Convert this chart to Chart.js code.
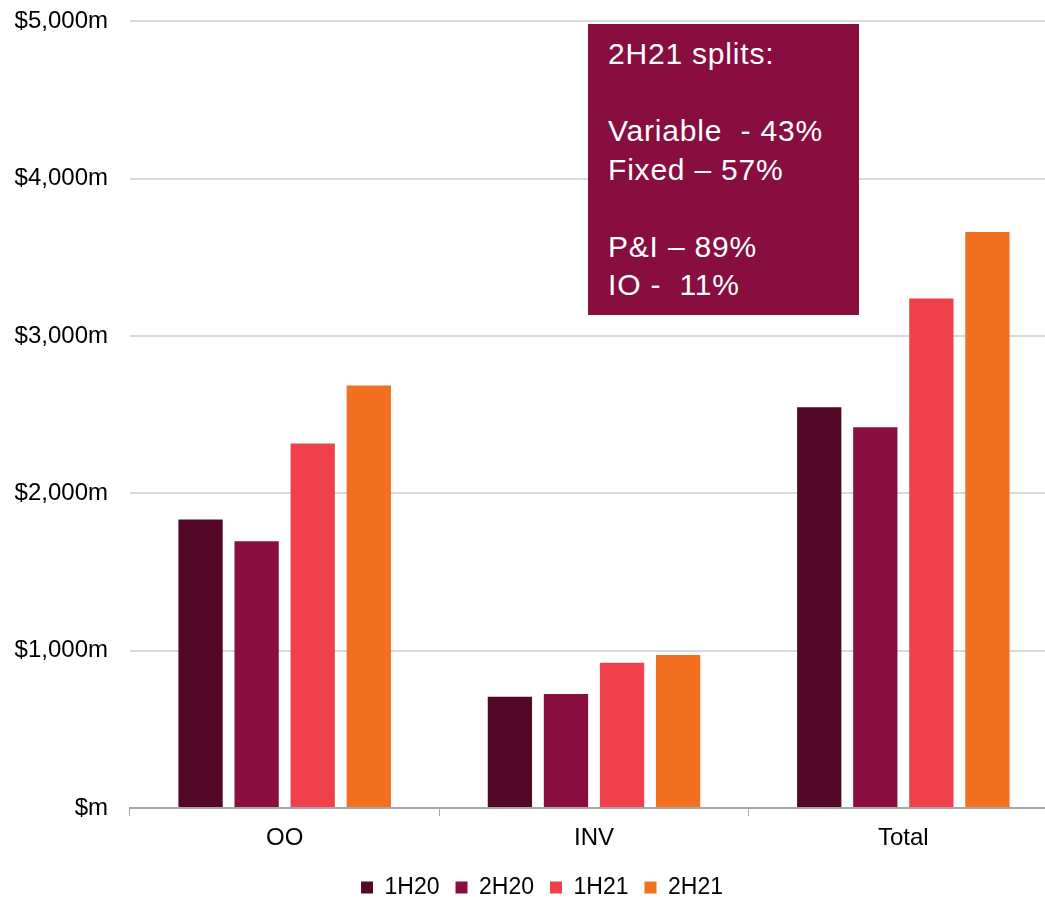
<!DOCTYPE html>
<html>
<head>
<meta charset="utf-8">
<script src="https://cdn.jsdelivr.net/npm/chart.js@4/dist/chart.umd.min.js"></script>
<style>
  html, body { margin: 0; padding: 0; background: #fff; overflow: hidden; }
  #wrap { position: relative; width: 1058px; height: 899px; }
  #chart-area { position: absolute; left: 0; top: -15px; }
  #note {
    position: absolute; left: 588px; top: 24px; width: 271px; height: 291px;
    box-sizing: border-box; padding: 11px 0 0 20px;
    background: #870e3f; color: #fff;
    font: 30px "Liberation Sans", Arial, sans-serif; line-height: 38.5px;
    letter-spacing: 0.8px; white-space: pre;
  }
</style>
</head>
<body>
<div id="wrap">
  <canvas id="chart-area" width="1058" height="924"></canvas>
  <div id="note">2H21 splits:

Variable  - 43%
Fixed – 57%

P&amp;I – 89%
IO -  11%</div>
</div>
<script>
'use strict';

const categories = ['OO', 'INV', 'Total'];
const periods = ['1H20', '2H20', '1H21', '2H21'];
const colours = ['#530828', '#8a0f40', '#ef404b', '#f37021'];
const v1H20 = [1834, 707, 2548];
const v2H20 = [1696, 724, 2421];
const v1H21 = [2317, 923, 3238];
const v2H21 = [2685, 972, 3661];
const yTicks = [0, 1000, 2000, 3000, 4000, 5000];

const series = [v1H20, v2H20, v1H21, v2H21];
var datasets = [];
for (let i = 0; i < periods.length; i++) {
  datasets.push({
    label: periods[i],
    data: series[i],
    backgroundColor: colours[i],
    categoryPercentage: 0.725,
    barPercentage: 0.79
  });
}

Chart.defaults.font.family = '"Liberation Sans", Arial, sans-serif';
Chart.defaults.color = '#000';

// the legend in the original sits a bit right of the canvas centre
const nudgeLegend = {
  id: 'nudgeLegend',
  afterLayout: (chart) => {
    chart.legend.left += 13;
    chart.legend.right += 13;
  }
};

var config = {
  type: 'bar',
  data: { labels: categories, datasets: datasets },
  plugins: [nudgeLegend],
  options: {
    responsive: false,
    animation: false,
    layout: { padding: 0 },
    plugins: {
      legend: {
        position: 'bottom',
        labels: { boxWidth: 12, boxHeight: 12, padding: 16, font: { size: 23 } }
      },
      tooltip: { enabled: false }
    },
    scales: {
      x: {
        offset: true,
        grid: { display: true, drawOnChartArea: false, drawTicks: true, tickLength: 8, color: '#a6a6a6', offset: true },
        border: { color: '#a6a6a6', width: 2 },
        ticks: { font: { size: 24 }, padding: 8 },
        afterFit: (s) => { s.height = 52; }
      },
      y: {
        min: 0, max: 5000,
        afterBuildTicks: (s) => { s.ticks = yTicks.map(v => ({ value: v })); },
        grid: { color: '#d9d9d9', lineWidth: 2, drawTicks: false },
        border: { display: false },
        ticks: {
          font: { size: 24 }, padding: 22,
          callback: (v) => v === 0 ? '$m' : '$' + v.toLocaleString('en-US') + 'm'
        },
        afterFit: (s) => { s.width = 130; }
      }
    }
  }
};

window.onload = function() {
  var ctx = document.getElementById('chart-area').getContext('2d');
  window.myBar = new Chart(ctx, config);
};
</script>
</body>
</html>
